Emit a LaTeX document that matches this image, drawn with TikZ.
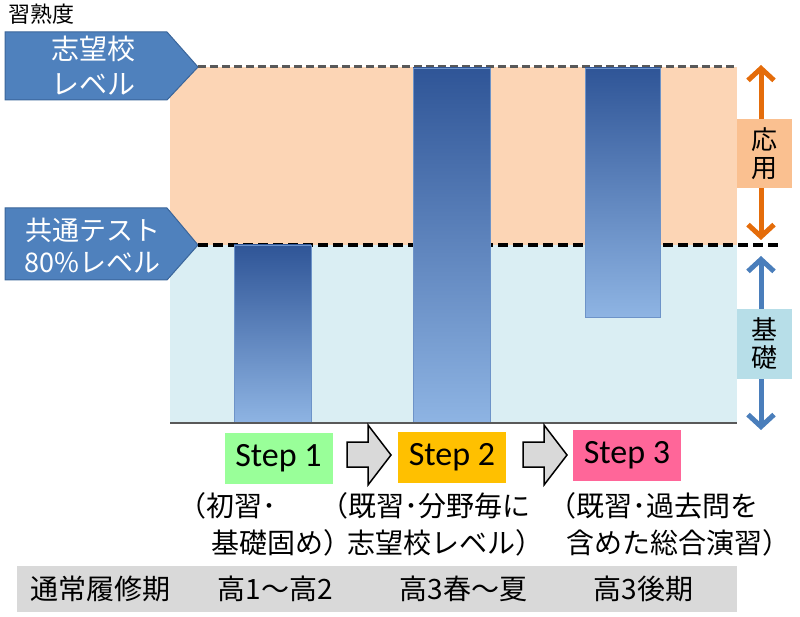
\documentclass[tikz,border=0pt]{standalone}
\usepackage{fontspec}
\setmainfont{Noto Sans CJK JP}
\newfontfamily\stepfont{Carlito}
\usetikzlibrary{arrows.meta}
\definecolor{lvlblue}{HTML}{4F81BD}
\definecolor{lvledge}{HTML}{3A659A}
\definecolor{peach}{HTML}{FCD5B5}
\definecolor{paleblue}{HTML}{DAEEF3}
\definecolor{bardark}{HTML}{2F5597}
\definecolor{barlight}{HTML}{8EB4E3}
\definecolor{applorange}{HTML}{E46C0A}
\definecolor{basicblue}{HTML}{4A7EBB}
\definecolor{applbox}{HTML}{FAC090}
\definecolor{basicbox}{HTML}{B7DEE8}
\definecolor{stepgreen}{HTML}{99FF99}
\definecolor{stepyellow}{HTML}{FFC000}
\definecolor{steppink}{HTML}{FF6699}
\definecolor{rowgray}{HTML}{D9D9D9}
\definecolor{linegray}{HTML}{595959}
\newcommand{\jfs}[2]{\fontsize{#1}{#2}\selectfont}
\newcommand{\jlp}{\makebox[0.5em][r]{（}}
\newcommand{\jrp}{\makebox[0.4em][l]{）}}

\begin{document}
\begin{tikzpicture}[x=1pt,y=1pt,
  bar/.style={top color=bardark, bottom color=barlight, draw=bardark!35!barlight, line width=0.8pt},
  lvlshape/.style={fill=lvlblue, draw=lvledge, line width=1pt},
  twoway/.style={line width=5pt, {Straight Barb[length=12pt,width=26pt]}-{Straight Barb[length=12pt,width=26pt]}},
  sidebox/.style={minimum width=55, minimum height=69, inner sep=0pt, align=center, font=\jfs{26}{28}},
  stepbox/.style={minimum width=108, minimum height=51, inner sep=0pt, font=\stepfont\jfs{34}{34}},
  blockarrow/.style={fill=rowgray, draw=black, line width=1.5pt, line join=miter}]
 \useasboundingbox (0,0) rectangle (800,-617);
 \node (title) at (42,-14) {\jfs{22}{22}習熟度};
 \fill[peach] (170,-67) rectangle (737,-245);
 \fill[paleblue] (170,-245) rectangle (737,-423);
 \draw[lvlshape] (5,-32) -- (167,-32) -- (198,-67) -- (167,-100) -- (5,-100) -- cycle;
 \draw[lvlshape] (5,-208) -- (167,-208) -- (198,-245) -- (167,-280) -- (5,-280) -- cycle;
 \coordinate (tipA) at (198,-67);
 \coordinate (tipB) at (198,-245);
 \coordinate (endA) at (737,-67);
 \coordinate (endB) at (778,-245);
 \path [draw=linegray, line width=3pt, dash pattern=on 8pt off 4pt] (tipA) -- (endA);
 \path [draw=black, line width=3.5pt, dash pattern=on 10pt off 5pt] (tipB) -- (endB);
 \begin{scope}[every node/.style={text=white, align=center, inner sep=0pt}]
  \node[font=\jfs{28}{35}] (goal) at (93,-66) {志望校\\レベル};
  \node[font=\jfs{27}{32}] (common) at (92.5,-246) {共通テスト\\80\%レベル};
 \end{scope}
 \path[bar] (234,-245) rectangle (311,-423);
 \path[bar] (413,-68) rectangle (490,-423);
 \path[bar] (585,-68) rectangle (660,-317);
 \draw[linegray, line width=2pt] (170,-423) -- (737,-423);
 \coordinate (applTop) at (761,-65);
 \coordinate (applBot) at (761,-240);
 \coordinate (basicTop) at (761,-256);
 \coordinate (basicBot) at (761,-430);
 \draw[twoway, applorange] (applTop) -- (applBot);
 \draw[twoway, basicblue] (basicTop) -- (basicBot);
 \node[sidebox, fill=applbox] (appl) at (764.5,-153.5) {応\\用};
 \node[sidebox, fill=basicbox] (basic) at (764.5,-344) {基\\礎};
 \begin{scope}[every node/.style={stepbox}]
  \node[fill=stepgreen] (step1) at (278.5,-458.5) {Step 1};
  \node[fill=stepyellow] (step2) at (452,-457.5) {Step 2};
  \node[fill=steppink] (step3) at (627,-455.5) {Step 3};
 \end{scope}
 \foreach \ax in {347,523}
  \draw[blockarrow] (\ax,-442) -- ++(21,0) -- ++(0,17) -- ++(23,-30) -- ++(-23,-30) -- ++(0,18) -- ++(-21,0) -- cycle;
 \begin{scope}[every node/.style={anchor=west, inner sep=0pt, font=\jfs{28}{28}}]
  \node (note1a) at (192,-506) {\jlp 初習･};
  \node (note1b) at (211,-543) {基礎固め\jrp};
  \node (note2a) at (334,-506) {\jlp 既習･分野毎に};
  \node (note2b) at (347,-543) {志望校レベル\jrp};
  \node (note3a) at (562,-506) {\jlp 既習･過去問を};
  \node (note3b) at (566,-543) {含めた総合演習\jrp};
 \end{scope}
 \fill[rowgray] (17,-566) rectangle (737,-612);
 \begin{scope}[every node/.style={inner sep=0pt, font=\jfs{28}{28}}]
  \node (term) at (100.5,-589) {通常履修期};
  \node (term1) at (275.5,-589) {高1～高2};
  \node (term2) at (463.5,-589) {高3春～夏};
  \node (term3) at (643.5,-589) {高3後期};
 \end{scope}
\end{tikzpicture}
\end{document}
